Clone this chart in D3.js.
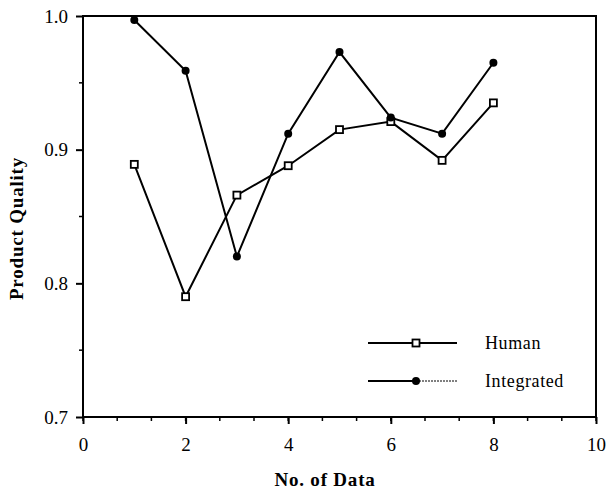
<!DOCTYPE html>
<html lang="en">
<head>
<meta charset="UTF-8">
<title>Product Quality vs No. of Data</title>
<style>
  body { margin: 0; background: #fff; }
  text { font-family: "Liberation Serif", "DejaVu Serif", serif; fill: #000; }
  .tick text { font-size: 19px; }
  .axis-title { font-size: 19px; font-weight: bold; letter-spacing: 0.8px; }
  .legend text { font-size: 18px; letter-spacing: 0.6px; }
</style>
<script src="https://d3js.org/d3.v7.min.js"></script>
</head>
<body>
<div id="chart"></div>
<script>
// data
var xValues = [1, 2, 3, 4, 5, 6, 7, 8];
var human = [0.889, 0.790, 0.866, 0.888, 0.915, 0.921, 0.892, 0.935];
var integrated = [0.997, 0.959, 0.820, 0.912, 0.973, 0.924, 0.912, 0.965];
var xTicks = [0, 2, 4, 6, 8, 10];
var yTicks = [0.7, 0.8, 0.9, 1.0];
var seriesNames = ["Human", "Integrated"];

var W = 607, H = 491;
var margin = {top: 16, right: 11, bottom: 74, left: 83};
var width = W - margin.left - margin.right,
    height = H - margin.top - margin.bottom;

var svg = d3.select("#chart").append("svg")
    .attr("width", W).attr("height", H);
var g = svg.append("g")
    .attr("transform", "translate(" + margin.left + "," + margin.top + ")");

var x = d3.scaleLinear().domain([0, 10]).range([0, width]);
var y = d3.scaleLinear().domain([0.7, 1.0]).range([height, 0]);

// frame
g.append("rect")
    .attr("width", width).attr("height", height)
    .attr("fill", "none").attr("stroke", "#000").attr("stroke-width", 2);

// minor ticks
var xMinor = d3.range(0, 10.001, 2 / 3);
g.append("g").selectAll("line").data(xMinor).enter().append("line")
    .attr("x1", d => x(d)).attr("x2", d => x(d))
    .attr("y1", height).attr("y2", height + 4)
    .attr("stroke", "#000").attr("stroke-width", 1.5);
var yMinor = [0.75, 0.85, 0.95];
g.append("g").selectAll("line").data(yMinor).enter().append("line")
    .attr("x1", -4).attr("x2", 0)
    .attr("y1", d => y(d)).attr("y2", d => y(d))
    .attr("stroke", "#000").attr("stroke-width", 1.5);

// axes
var xAxis = g.append("g")
    .attr("transform", "translate(0," + height + ")")
    .call(d3.axisBottom(x).tickValues(xTicks).tickSize(7).tickPadding(14).tickFormat(d3.format("d")));
var yAxis = g.append("g")
    .call(d3.axisLeft(y).tickValues(yTicks).tickSize(7).tickPadding(8).tickFormat(d3.format(".1f")));
[xAxis, yAxis].forEach(function(a) {
  a.select(".domain").remove();
  a.selectAll(".tick line").attr("stroke-width", 2);
});

// axis titles
g.append("text").attr("class", "axis-title")
    .attr("x", 242).attr("y", height + 69)
    .attr("text-anchor", "middle").text("No. of Data");
g.append("text").attr("class", "axis-title")
    .attr("transform", "translate(-60," + (height / 2 + 12) + ") rotate(-90)")
    .attr("text-anchor", "middle").text("Product Quality");

// lines
var line = d3.line().x((d, i) => x(xValues[i])).y(d => y(d));
[human, integrated].forEach(function(s) {
  g.append("path").datum(s)
      .attr("d", line)
      .attr("fill", "none").attr("stroke", "#000").attr("stroke-width", 2);
});

// markers
g.append("g").selectAll("rect").data(human).enter().append("rect")
    .attr("x", (d, i) => x(xValues[i]) - 3.5)
    .attr("y", d => y(d) - 3.5)
    .attr("width", 7).attr("height", 7)
    .attr("fill", "#fff").attr("stroke", "#000").attr("stroke-width", 1.8);
g.append("g").selectAll("circle").data(integrated).enter().append("circle")
    .attr("cx", (d, i) => x(xValues[i]))
    .attr("cy", d => y(d))
    .attr("r", 4).attr("fill", "#000");

// legend
var legend = g.append("g").attr("class", "legend")
    .attr("transform", "translate(" + (368 - margin.left) + "," + (343 - margin.top) + ")");
seriesNames.forEach(function(name, i) {
  var row = legend.append("g").attr("transform", "translate(0," + (i * 38) + ")");
  if (i === 0) {
    row.append("line").attr("x1", 0).attr("x2", 89)
        .attr("stroke", "#000").attr("stroke-width", 2);
    row.append("rect").attr("x", 44.5).attr("y", -3.5).attr("width", 7).attr("height", 7)
        .attr("fill", "#fff").attr("stroke", "#000").attr("stroke-width", 1.8);
  } else {
    row.append("line").attr("x1", 0).attr("x2", 48)
        .attr("stroke", "#000").attr("stroke-width", 2);
    row.append("line").attr("x1", 48).attr("x2", 89)
        .attr("stroke", "#000").attr("stroke-width", 1).attr("stroke-dasharray", "2,1");
    row.append("circle").attr("cx", 48).attr("r", 4).attr("fill", "#000");
  }
  row.append("text").attr("x", 117).attr("y", 6).text(name);
});
</script>
</body>
</html>
